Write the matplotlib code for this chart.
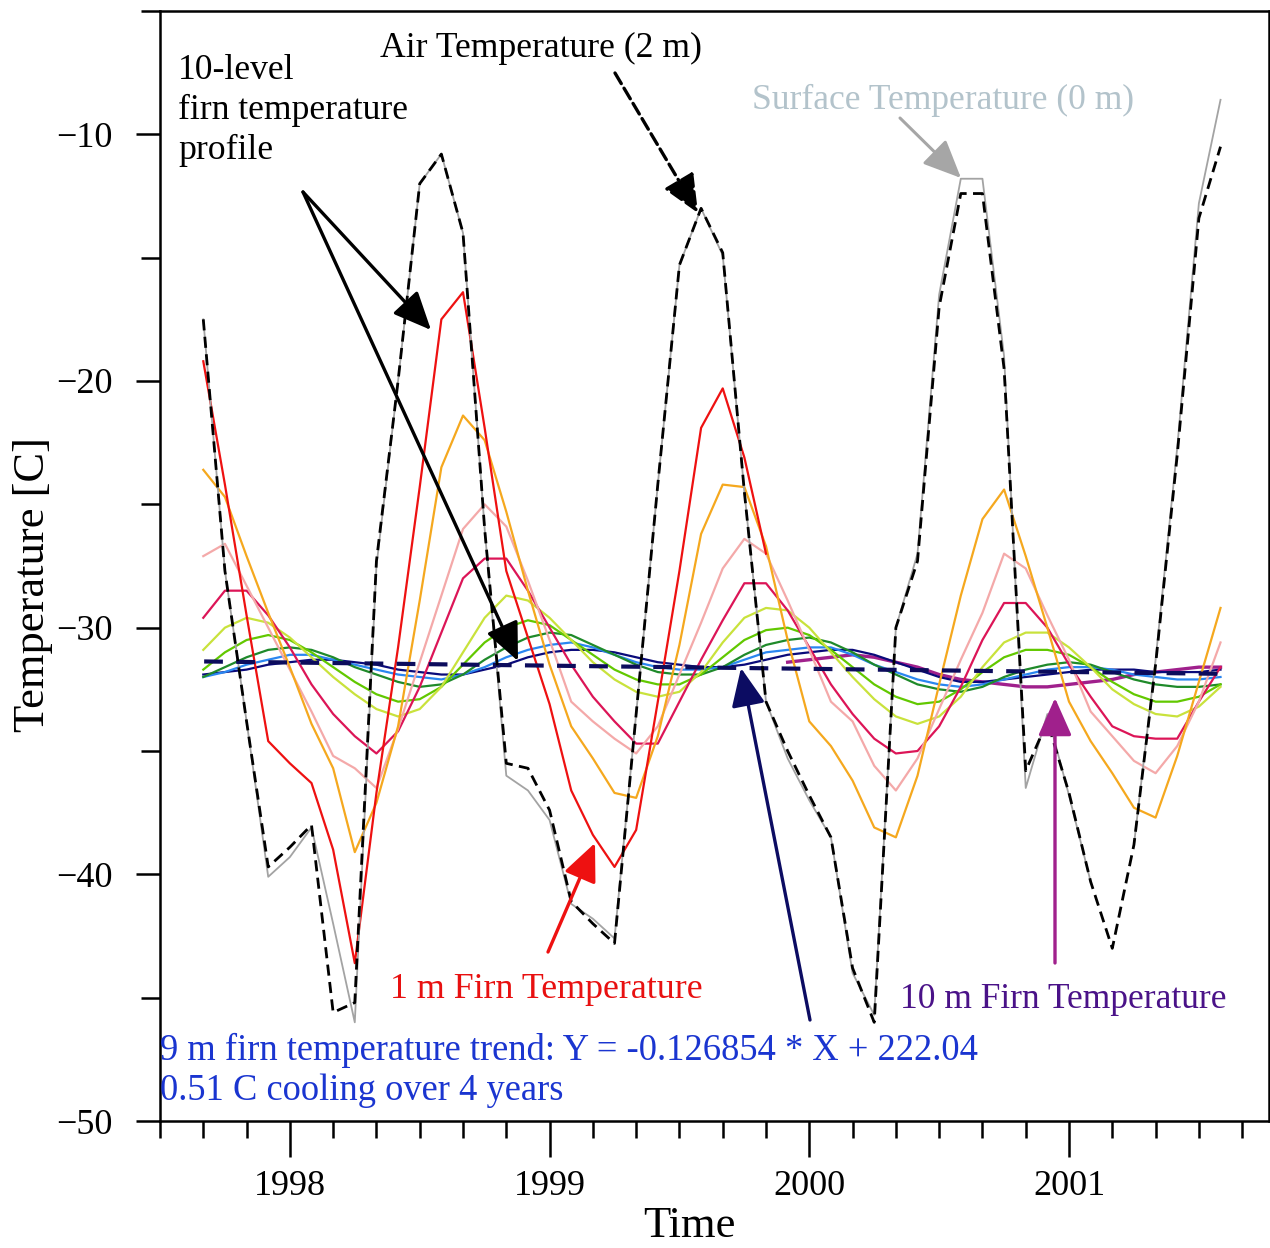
import numpy as np
import pandas as pd
import matplotlib
matplotlib.use('Agg')
import matplotlib.pyplot as plt

plt.rcParams['font.family'] = ['Liberation Serif', 'DejaVu Serif']
plt.rcParams['axes.unicode_minus'] = True

# monthly values, Sep 1997 .. Aug 2001
months = pd.date_range('1997-09-01', '2001-08-01', freq='MS')
t = months.year + (months.month - 1) / 12.0
nan = np.nan

air_2m = [-17.5, -27.7, -33.8, -39.7, -38.9, -38.0, -45.6, -45.2, -27.3, -20.0, -12.0, -10.8,
          -14.0, -26.0, -35.5, -35.7, -37.4, -41.1, -42.0, -42.8, -33.5, -24.2, -15.3, -13.0,
          -14.8, -24.5, -33.0, -35.0, -36.8, -38.5, -43.8, -46.0, -30.0, -27.3, -17.0, -12.4,
          -12.4, -19.5, -35.8, -33.8, -36.7, -40.3, -43.0, -38.8, -31.5, -23.0, -13.4, -10.5]
surface_0m = [-17.5, -27.7, -33.8, -40.1, -39.3, -38.1, -42.0, -46.0, -27.5, -20.0, -12.0, -10.8,
              -14.0, -26.0, -36.0, -36.6, -37.8, -41.2, -41.8, -42.6, -33.5, -24.2, -15.3, -13.0,
              -14.9, -24.5, -33.0, -35.3, -37.0, -38.5, -44.0, -45.7, -30.0, -27.0, -16.5, -11.8,
              -11.8, -19.0, -36.5, -33.5, -36.8, -40.3, nan, -38.8, -31.3, -22.7, -12.8, -8.6]
firn_1m = [-19.2, -24.2, -29.5, -34.6, -35.5, -36.3, -39.0, -43.6, -36.7, -30.8, -24.3, -17.5,
           -16.4, -21.9, -27.7, -30.4, -33.1, -36.6, -38.4, -39.7, -38.2, -33.0, -27.7, -21.9,
           -20.3, -23.1, -27.0, nan, nan, nan, nan, nan, nan, nan, nan, nan,
           nan, nan, nan, nan, nan, nan, nan, nan, nan, nan, nan, nan]
firn_2m = [-23.6, -24.7, -27.1, -29.4, -31.6, -33.9, -35.7, -39.1, -37.1, -34.0, -28.9, -23.5,
           -21.4, -22.4, -25.3, -28.5, -31.5, -34.0, -35.3, -36.7, -36.9, -34.4, -30.7, -26.2,
           -24.2, -24.3, -26.7, -30.5, -33.8, -34.8, -36.2, -38.1, -38.5, -36.0, -32.3, -28.7,
           -25.6, -24.4, -27.1, -30.0, -33.0, -34.6, -35.9, -37.3, -37.7, -35.2, -32.2, -29.2]
firn_3m = [-27.1, -26.6, -28.3, -30.0, -31.7, -33.4, -35.2, -35.7, -36.5, -34.1, -31.4, -28.7,
           -26.0, -25.0, -25.9, -28.1, -30.5, -33.0, -33.8, -34.5, -35.1, -34.0, -31.9, -29.8,
           -27.6, -26.4, -27.0, -28.9, -30.9, -33.0, -33.8, -35.6, -36.6, -35.3, -33.3, -31.3,
           -29.4, -27.0, -27.6, -29.5, -31.3, -33.4, -34.4, -35.4, -35.9, -34.8, -33.0, -30.6]
firn_4m = [-29.6, -28.5, -28.5, -29.5, -30.8, -32.3, -33.5, -34.4, -35.1, -34.2, -32.4, -30.2,
           -28.0, -27.2, -27.2, -28.5, -30.0, -31.5, -32.8, -33.8, -34.7, -34.7, -33.0, -31.3,
           -29.7, -28.2, -28.2, -29.3, -30.8, -32.3, -33.5, -34.5, -35.1, -35.0, -34.0, -32.4,
           -30.5, -29.0, -29.0, -30.0, -31.5, -32.8, -34.0, -34.4, -34.5, -34.5, -33.0, -31.6]
firn_5m = [-30.9, -30.0, -29.6, -29.8, -30.4, -31.2, -32.0, -32.7, -33.3, -33.6, -33.3, -32.4,
           -31.0, -29.6, -28.7, -28.9, -29.6, -30.5, -31.4, -32.1, -32.6, -32.8, -32.6, -31.8,
           -30.6, -29.6, -29.2, -29.3, -30.0, -31.0, -32.0, -32.9, -33.6, -33.9, -33.6, -32.8,
           -31.6, -30.6, -30.2, -30.2, -30.8, -31.6, -32.5, -33.1, -33.5, -33.6, -33.2, -32.4]
firn_6m = [-31.7, -31.0, -30.5, -30.3, -30.5, -31.0, -31.6, -32.2, -32.7, -33.0, -32.9, -32.4,
           -31.5, -30.6, -30.0, -29.7, -29.9, -30.5, -31.1, -31.7, -32.1, -32.3, -32.3, -31.9,
           -31.2, -30.5, -30.1, -30.0, -30.3, -30.9, -31.6, -32.3, -32.8, -33.1, -33.0, -32.5,
           -31.8, -31.2, -30.9, -30.9, -31.1, -31.6, -32.2, -32.7, -33.0, -33.0, -32.8, -32.3]
firn_7m = [-32.0, -31.6, -31.2, -30.9, -30.8, -30.9, -31.2, -31.6, -31.9, -32.2, -32.4, -32.3,
           -31.9, -31.3, -30.8, -30.4, -30.2, -30.3, -30.7, -31.1, -31.5, -31.8, -31.9, -31.9,
           -31.6, -31.1, -30.7, -30.5, -30.4, -30.6, -31.0, -31.5, -31.9, -32.3, -32.5, -32.6,
           -32.4, -32.0, -31.7, -31.5, -31.4, -31.5, -31.8, -32.1, -32.3, -32.4, -32.4, -32.3]
firn_8m = [-32.0, -31.8, -31.5, -31.3, -31.1, -31.1, -31.3, -31.5, -31.7, -31.9, -32.0, -32.1,
           -31.9, -31.6, -31.2, -30.9, -30.7, -30.6, -30.8, -31.1, -31.4, -31.6, -31.7, -31.7,
           -31.6, -31.3, -31.0, -30.9, -30.8, -30.8, -31.1, -31.5, -31.8, -32.1, -32.3, -32.4,
           -32.3, -32.1, -31.9, -31.7, -31.6, -31.6, -31.7, -31.9, -32.0, -32.1, -32.1, -32.0]
firn_9m = [-31.9, -31.8, -31.7, -31.5, -31.4, -31.3, -31.3, -31.4, -31.5, -31.7, -31.8, -31.9,
           -31.9, -31.7, -31.5, -31.2, -31.0, -30.9, -30.9, -31.0, -31.2, -31.4, -31.5, -31.6,
           -31.6, -31.5, -31.3, -31.1, -31.0, -30.9, -30.9, -31.1, -31.4, -31.7, -32.0, -32.2,
           -32.2, -32.1, -32.0, -31.9, -31.8, -31.7, -31.7, -31.7, -31.8, -31.8, -31.8, -31.7]
firn_10m = [nan, nan, nan, nan, nan, nan, nan, nan, nan, nan, nan, nan,
            nan, nan, nan, nan, nan, nan, nan, nan, nan, nan, nan, nan,
            nan, nan, nan, -31.4, -31.3, -31.2, -31.1, -31.2, -31.4, -31.6, -31.9, -32.1,
            -32.2, -32.3, -32.4, -32.4, -32.3, -32.2, -32.1, -31.9, -31.8, -31.7, -31.6, -31.6]

# linear trend of the 9 m record (end points)
trend_t = [1997.67, 2001.58]
trend_y = [-31.37, -31.87]

firn_levels = [
    (firn_9m, '#0a0a7a'), (firn_8m, '#2a86f0'), (firn_7m, '#1f8a2a'),
    (firn_6m, '#62c800'), (firn_5m, '#c9e23c'), (firn_4m, '#dc1557'),
    (firn_3m, '#f4a9a9'), (firn_2m, '#f5a81e'), (firn_1m, '#ee1111'),
]

W, H = 1270, 1248
fig = plt.figure(figsize=(W / 100, H / 100), dpi=100)
ax = fig.add_axes([160 / W, 1 - 1121 / H, 1109 / W, 1110 / H])


def fp(x, y):
    # pixel position measured from the top-left corner -> figure pixels
    return (x, H - y)


ax.plot(t, firn_10m, color='#a0208c', lw=2.4, zorder=2)
for vals, col in firn_levels:
    ax.plot(t, vals, color=col, lw=1.6, zorder=2)
ax.plot(trend_t, trend_y, color='#0c0c5c', lw=3, dashes=(4.5, 3.2), zorder=4)
ax.plot(t, surface_0m, color='#a3a3a3', lw=1.3, zorder=3)
ax.plot(t, air_2m, color='black', lw=2.0, dashes=(4, 2.3), zorder=4)

ax.set_xlim(1997.5, 2001.77)
ax.set_ylim(-50, -5)
ax.set_xticks([1998, 1999, 2000, 2001])
ax.set_xticks(np.arange(1997.5, 2001.7, 1 / 6), minor=True)
ax.set_yticks([-50, -40, -30, -20, -10])
ax.set_yticks([-45, -35, -25, -15, -5], minor=True)
ax.tick_params(axis='x', which='major', direction='out', length=26, width=1.8, pad=9, labelsize=26)
ax.tick_params(axis='x', which='minor', direction='out', length=12, width=1.8)
ax.tick_params(axis='y', which='major', direction='out', length=17, width=1.8, pad=17, labelsize=26)
ax.tick_params(axis='y', which='minor', direction='out', length=14, width=1.8)
for s in ax.spines.values():
    s.set_linewidth(1.8)

fig.text(689 / W, 2 / H, 'Time', fontsize=32, ha='center', va='bottom')
fig.text(33 / W, 1 - 585 / H, 'Temperature [C]', fontsize=32, rotation=90, ha='center', va='center')

# annotations
fig.text(178 / W, 1 - 54 / H, '10-level\nfirn temperature\nprofile', fontsize=25.7,
         ha='left', va='top', linespacing=1.27)
fig.text(380 / W, 1 - 57 / H, 'Air Temperature (2 m)', fontsize=25.7, ha='left', va='baseline')
fig.text(752 / W, 1 - 109 / H, 'Surface Temperature (0 m)', fontsize=25.6, color='#b3c3cb',
         ha='left', va='baseline')
fig.text(390 / W, 1 - 998 / H, '1 m Firn Temperature', fontsize=25.8, color='#e81010',
         ha='left', va='baseline')
fig.text(900 / W, 1 - 1008 / H, '10 m Firn Temperature', fontsize=25.5, color='#4a1288',
         ha='left', va='baseline')
fig.text(160 / W, 1 - 1060 / H, '9 m firn temperature trend: Y = -0.126854 * X + 222.04',
         fontsize=26.3, color='#1a35d0', ha='left', va='baseline')
fig.text(160 / W, 1 - 1100 / H, '0.51 C cooling over 4 years', fontsize=26.3, color='#1a35d0',
         ha='left', va='baseline')


def arrow(tail, tip, color, ls='-', lw=2.4):
    ax.annotate('', xy=fp(*tip), xytext=fp(*tail), xycoords='figure pixels',
                textcoords='figure pixels', annotation_clip=False,
                arrowprops=dict(arrowstyle='-|>,head_length=0.9,head_width=0.4', lw=lw,
                                color=color, linestyle=ls, mutation_scale=26,
                                shrinkA=0, shrinkB=0), zorder=6)


arrow((303, 192), (431, 330), 'black')
arrow((303, 192), (518, 661), 'black')
arrow((615, 73), (698, 213), 'black', ls='--')
arrow((900, 118), (961, 178), '#a6a6a6', lw=2.2)
arrow((548, 952), (595, 843), '#ee1111')
arrow((810, 1020), (741, 668), '#0c0c62')
arrow((1055, 963), (1055, 698), '#a0208c')

fig.savefig('out.png', dpi=100)
